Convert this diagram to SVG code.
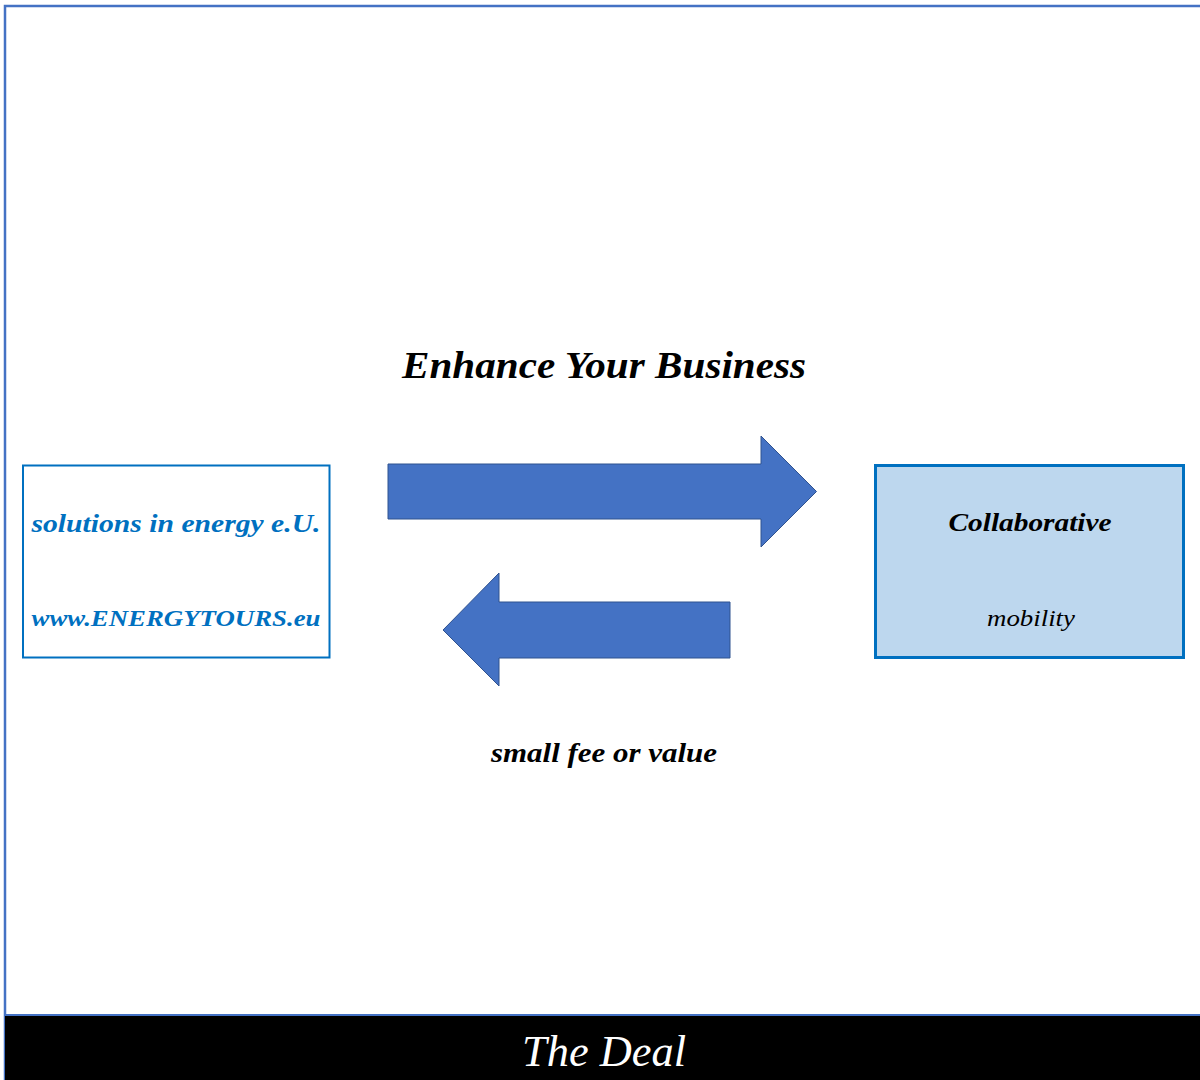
<svg xmlns="http://www.w3.org/2000/svg" width="1200" height="1080" viewBox="0 0 1200 1080">
<style>
.t{font-family:"Liberation Serif","Times New Roman",serif;font-style:italic;text-anchor:middle}
.b{font-weight:bold}
.blue{fill:#0070C0}
.arrow{fill:#4472C4;stroke:#2F528F;stroke-width:1}
</style>
<rect x="0" y="0" width="1200" height="1080" fill="#fff"/>
<g id="frame">
<path d="M5,1080 V6 H1200" fill="none" stroke="#4472C4" stroke-width="2.5"/>
<rect x="5" y="1015" width="1195" height="65" fill="#000"/>
<line x1="5" y1="1015" x2="1200" y2="1015" stroke="#4472C4" stroke-width="2"/>
<text class="t" x="604" y="1066" font-size="44" fill="#fff" textLength="164" lengthAdjust="spacingAndGlyphs">The Deal</text>
</g>
<text id="title" class="t b" x="604" y="378" font-size="38" fill="#000" textLength="404" lengthAdjust="spacingAndGlyphs">Enhance Your Business</text>
<g id="node-left">
<rect x="23" y="465.5" width="306.5" height="192" fill="#fff" stroke="#0070C0" stroke-width="2"/>
<text class="t b blue" x="176" y="532" font-size="26" textLength="289" lengthAdjust="spacingAndGlyphs">solutions in energy e.U.</text>
<text class="t b blue" x="176" y="626" font-size="24" textLength="289" lengthAdjust="spacingAndGlyphs">www.ENERGYTOURS.eu</text>
</g>
<g id="node-right">
<rect x="875.5" y="465.5" width="308" height="192" fill="#BDD7EE" stroke="#0070C0" stroke-width="3"/>
<text class="t b" x="1030" y="531" font-size="26" fill="#000" textLength="163" lengthAdjust="spacingAndGlyphs">Collaborative</text>
<text class="t" x="1031" y="626" font-size="24" fill="#000" textLength="88" lengthAdjust="spacingAndGlyphs">mobility</text>
</g>
<g id="connectors">
<path class="arrow" d="M388,464 H761 V436 L816.5,491.5 L761,547 V519 H388 Z"/>
<path class="arrow" d="M730,602 H499 V573 L443,630 L499,686 V658 H730 Z"/>
</g>
<text id="label-fee" class="t b" x="604" y="762" font-size="28" fill="#000" textLength="226" lengthAdjust="spacingAndGlyphs">small fee or value</text>
</svg>
